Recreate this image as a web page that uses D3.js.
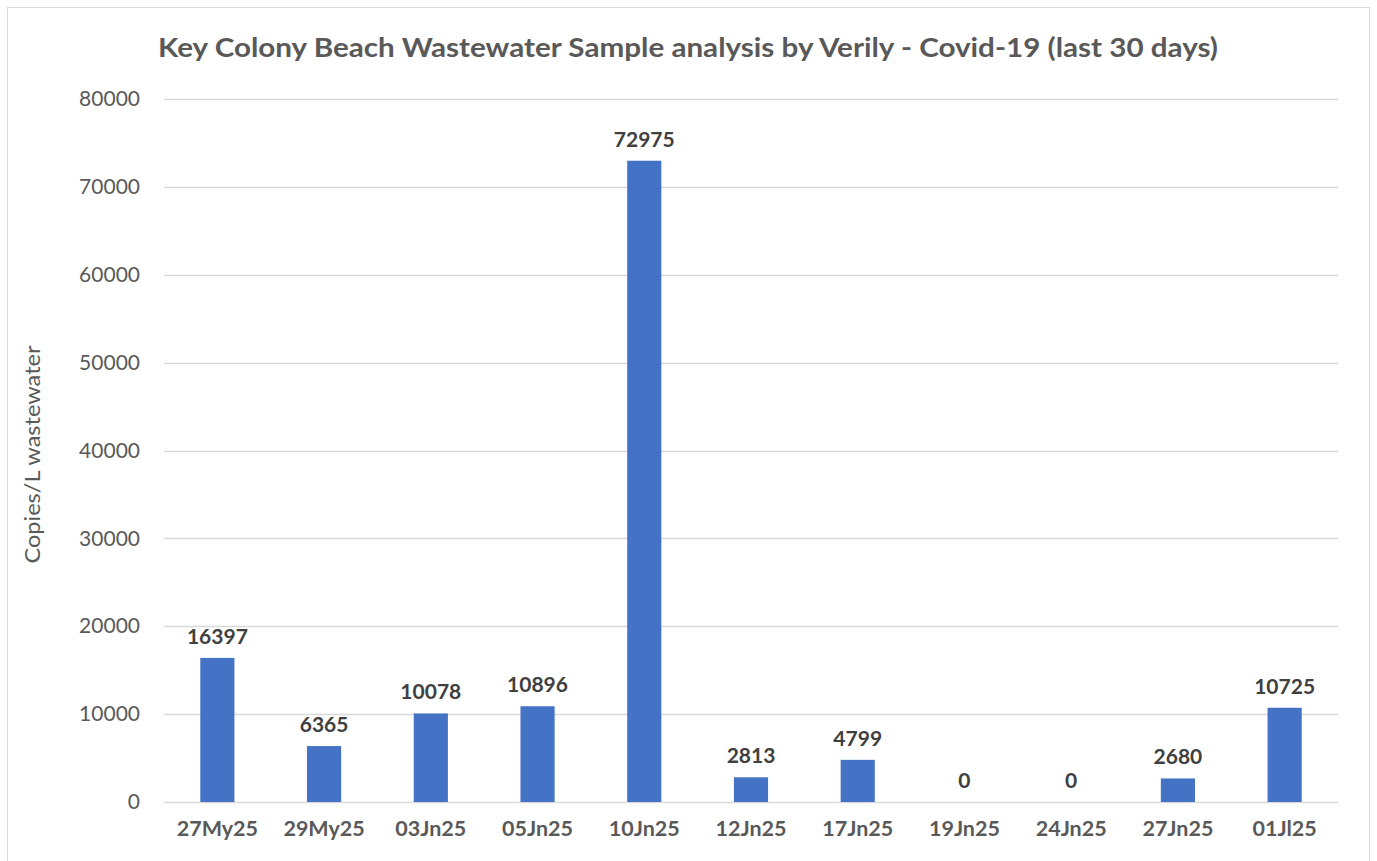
<!DOCTYPE html>
<html>
<head>
<meta charset="utf-8">
<script src="https://cdn.jsdelivr.net/npm/d3@7"></script>
<style>
  body { margin: 0; background: #fff; font-family: Lato, "Open Sans", sans-serif; }
</style>
</head>
<body>
<div id="chart"></div>
<script>
const dates = ["27My25", "29My25", "03Jn25", "05Jn25", "10Jn25", "12Jn25", "17Jn25", "19Jn25", "24Jn25", "27Jn25", "01Jl25"];
const copies = [16397, 6365, 10078, 10896, 72975, 2813, 4799, 0, 0, 2680, 10725];
const yTicks = [0, 10000, 20000, 30000, 40000, 50000, 60000, 70000, 80000];

const W = 1377, H = 861;
const margin = {top: 99, right: 39, bottom: 59, left: 164};

const svg = d3.select("#chart").append("svg")
  .attr("width", W)
  .attr("height", H);

// chart frame
svg.append("rect")
  .attr("x", 7.5).attr("y", 7.5)
  .attr("width", 1362).attr("height", 860)
  .attr("fill", "#fff")
  .attr("stroke", "#d9d9d9");

const x = d3.scaleBand()
  .domain(dates)
  .range([margin.left, W - margin.right])
  .paddingInner(0.68)
  .paddingOuter(0.34);

const y = d3.scaleLinear()
  .domain([0, 80000])
  .range([H - margin.bottom, margin.top]);

// gridlines
svg.append("g")
  .selectAll("line")
  .data(yTicks)
  .join("line")
  .attr("x1", margin.left)
  .attr("x2", W - margin.right)
  .attr("y1", d => Math.round(y(d)) + 0.5)
  .attr("y2", d => Math.round(y(d)) + 0.5)
  .attr("stroke", "#d9d9d9")
  .attr("stroke-width", 1.3);

// y axis labels
const yAxis = d3.axisLeft(y).tickValues(yTicks).tickFormat(d3.format("d")).tickSize(0).tickPadding(24);
svg.append("g")
  .attr("transform", `translate(${margin.left},0)`)
  .call(yAxis)
  .call(g => g.select(".domain").remove())
  .selectAll("text")
  .attr("font-family", "Lato, 'Open Sans', sans-serif")
  .attr("font-size", 21)
  .attr("fill", "#595959");

// x axis labels
const xAxis = d3.axisBottom(x).tickSize(0).tickPadding(19);
svg.append("g")
  .attr("transform", `translate(0,${H - margin.bottom})`)
  .call(xAxis)
  .call(g => g.select(".domain").remove())
  .selectAll("text")
  .attr("font-family", "Lato, 'Open Sans', sans-serif")
  .attr("font-size", 21.5)
  .attr("font-weight", "bold")
  .attr("fill", "#595959");

// bars
svg.append("g")
  .attr("fill", "#4472c4")
  .selectAll("rect")
  .data(copies)
  .join("rect")
  .attr("x", (d, i) => x(dates[i]))
  .attr("y", d => y(d))
  .attr("width", x.bandwidth())
  .attr("height", d => y(0) - y(d));

// value labels
svg.append("g")
  .selectAll("text")
  .data(copies)
  .join("text")
  .attr("x", (d, i) => x(dates[i]) + x.bandwidth() / 2)
  .attr("y", d => y(d) - 14)
  .attr("text-anchor", "middle")
  .attr("font-size", 21)
  .attr("font-weight", "bold")
  .attr("fill", "#404040")
  .text(d => d);

// title
svg.append("text")
  .attr("x", 688)
  .attr("y", 57)
  .attr("text-anchor", "middle")
  .attr("font-size", 27)
  .attr("font-weight", "bold")
  .attr("fill", "#595959")
  .attr("textLength", 1060)
  .attr("lengthAdjust", "spacingAndGlyphs")
  .text("Key Colony Beach Wastewater Sample analysis by Verily - Covid-19 (last 30 days)");

// y axis title
svg.append("text")
  .attr("transform", `translate(40,${(margin.top + H - margin.bottom) / 2 + 4}) rotate(-90)`)
  .attr("text-anchor", "middle")
  .attr("font-size", 21)
  .attr("fill", "#595959")
  .attr("textLength", 218)
  .attr("lengthAdjust", "spacingAndGlyphs")
  .text("Copies/L wastewater");
</script>
</body>
</html>
